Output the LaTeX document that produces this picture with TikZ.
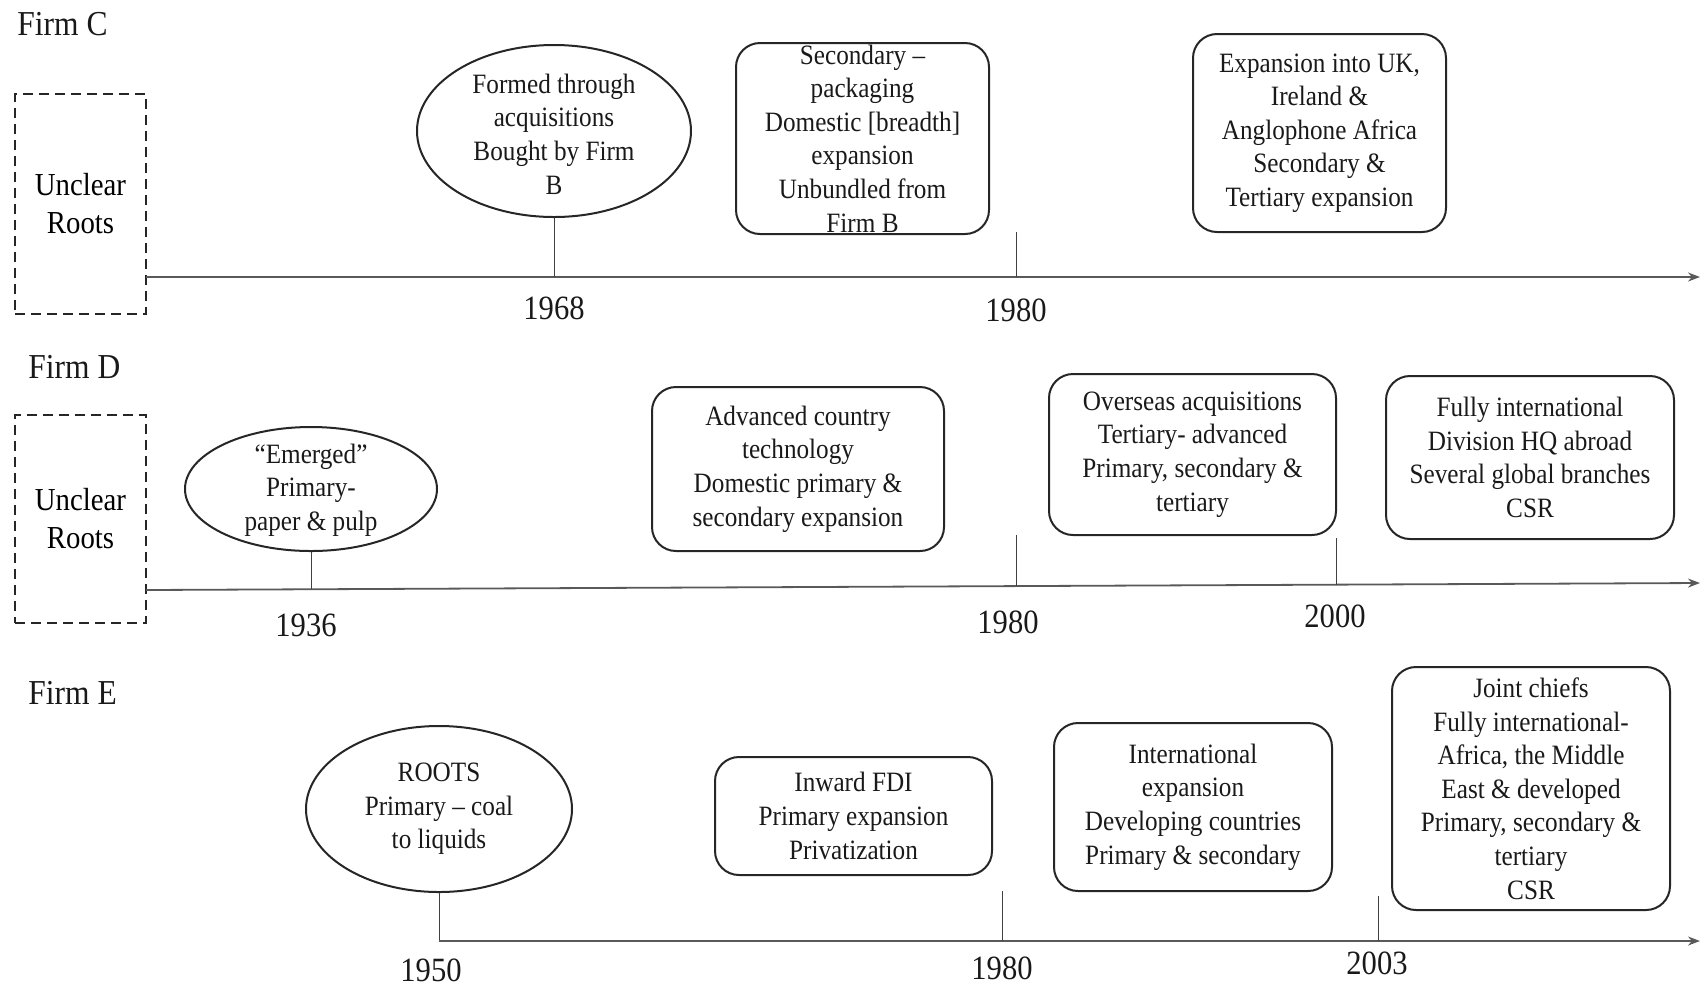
\documentclass[tikz,border=0pt]{standalone}
\usepackage{fontspec}
\setmainfont[FakeStretch=0.9]{Liberation Serif}
\usetikzlibrary{shapes.geometric,arrows.meta}
\tikzset{
  body/.style={font=\fontsize{14}{16.8}\selectfont, align=center, text=black!90},
  evbox/.style={body, draw=black!85, line width=1pt, rounded corners=12pt, inner sep=2pt},
  evell/.style={draw=black!85, line width=1pt, ellipse, inner sep=0pt},
  roots/.style={draw=black!85, line width=1pt, dash pattern=on 5pt off 3pt, align=center,
     font=\fontsize{16}{19}\selectfont, inner sep=0pt},
  year/.style={font=\fontsize{17}{20}\selectfont, text=black!90},
  firm/.style={font=\fontsize{17.5}{21}\selectfont, anchor=west, text=black!90, inner sep=0pt},
  tline/.style={draw=black!65, line width=0.9pt, -{Stealth[length=6pt,width=4.5pt]}},
  tick/.style={draw=black!75, line width=0.5pt}
}
\begin{document}
\begin{tikzpicture}[x=0.5pt,y=-0.5pt]
\useasboundingbox (0,0) rectangle (1703,987);

% ---------------- Firm C ----------------
\node[firm] (firmC) at (17,24) {Firm C};
\node[roots, minimum width=65.5pt, minimum height=110pt] (rootsC) at (80.5,204) {Unclear\\Roots};
\coordinate (cStart) at (146,277);
\coordinate (cEnd) at (1700,277);
\draw[tline] (cStart) -- (cEnd);

\node[evell, minimum width=137pt, minimum height=86pt] (ellC) at (554,131) {};
\node[body] (ellCtxt) at (554,134) {Formed through\\acquisitions\\Bought  by Firm\\B};
\draw[tick] (ellC.south) -- (ellC.south |- cStart);
\node[year] (yC1) at (554,308) {1968};

\node[evbox, inner ysep=-6pt, minimum width=126.5pt, minimum height=95.5pt] (boxC1) at (862.5,138.5)
  {Secondary –\\packaging\\Domestic [breadth]\\expansion\\Unbundled from\\Firm B};
\coordinate (tC2top) at (1016,232);
\draw[tick] (tC2top) -- (tC2top |- cStart);
\node[year] (yC2) at (1016,310) {1980};

\node[evbox, minimum width=126.5pt, minimum height=99pt] (boxC2) at (1319.5,133)
  {Expansion into UK,\\Ireland \&\\Anglophone Africa\\Secondary \&\\Tertiary expansion};

% ---------------- Firm D ----------------
\node[firm] (firmD) at (28,367) {Firm D};
\node[roots, minimum width=65.5pt, minimum height=104pt] (rootsD) at (80.5,519) {Unclear\\Roots};
\coordinate (dStart) at (146,590);
\coordinate (dEnd) at (1700,583);
\draw[tline] (dStart) -- (dEnd);

\node[evell, minimum width=126pt, minimum height=62pt] (ellD) at (311,489) {};
\node[body] (ellDtxt) at (311,490) {“Emerged”\\Primary-\\paper \& pulp};
\coordinate (dT1) at (311,589.3);
\draw[tick] (ellD.south) -- (dT1);
\node[year] (yD1) at (306,625) {1936};

\node[evbox, minimum width=146pt, minimum height=82pt] (boxD1) at (798,469)
  {Advanced country\\technology\\Domestic primary \&\\secondary expansion};

\coordinate (dT2top) at (1016,535);
\coordinate (dT2) at (1016,586.1);
\draw[tick] (dT2top) -- (dT2);
\node[year] (yD2) at (1008,622) {1980};

\node[evbox, minimum width=143.5pt, minimum height=80.5pt] (boxD2) at (1192.5,454.5)
  {Overseas acquisitions\\Tertiary- advanced\\Primary, secondary \&\\tertiary};

\coordinate (dT3top) at (1336,538);
\coordinate (dT3) at (1336,584.6);
\draw[tick] (dT3top) -- (dT3);
\node[year] (yD3) at (1335,616) {2000};

\node[evbox, minimum width=144pt, minimum height=81.5pt] (boxD3) at (1530,457.5)
  {Fully international\\Division HQ abroad\\Several global branches\\CSR};

% ---------------- Firm E ----------------
\node[firm] (firmE) at (28,693) {Firm E};
\node[evell, minimum width=133pt, minimum height=83pt] (ellE) at (439,809) {};
\node[body] (ellEtxt) at (439,809) {ROOTS\\Primary – coal\\to liquids};
\coordinate (eStart) at (439,941);
\coordinate (eEnd) at (1700,941);
\draw[tick] (ellE.south) -- (eStart);
\draw[tline] (eStart) -- (eEnd);
\node[year] (yE1) at (431,970) {1950};

\node[evbox, minimum width=138.5pt, minimum height=59pt] (boxE1) at (853.5,816)
  {Inward FDI\\Primary expansion\\Privatization};

\coordinate (eT2top) at (1002,891);
\draw[tick] (eT2top) -- (eT2top |- eStart);
\node[year] (yE2) at (1002,968) {1980};

\node[evbox, minimum width=139pt, minimum height=84pt] (boxE2) at (1193,807)
  {International\\expansion\\Developing countries\\Primary \& secondary};

\coordinate (eT3top) at (1378,896);
\draw[tick] (eT3top) -- (eT3top |- eStart);
\node[year] (yE3) at (1377,963) {2003};

\node[evbox, minimum width=139pt, minimum height=121.5pt] (boxE3) at (1531,788.5)
  {Joint chiefs\\Fully international-\\Africa, the Middle\\East \& developed\\Primary, secondary \&\\tertiary\\CSR};
\end{tikzpicture}
\end{document}
